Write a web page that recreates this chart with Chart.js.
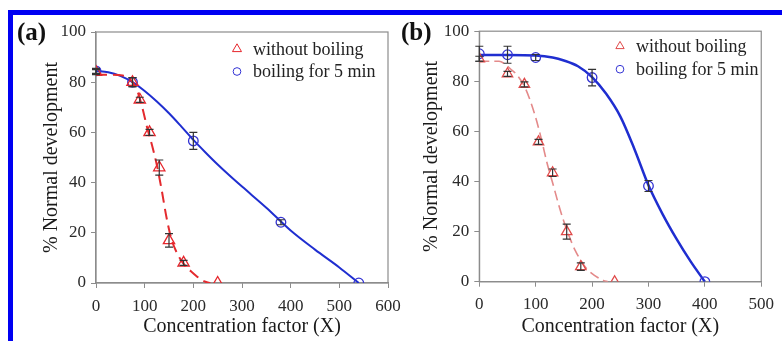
<!DOCTYPE html>
<html><head><meta charset="utf-8">
<script src="https://cdn.jsdelivr.net/npm/chart.js@4.4.0/dist/chart.umd.min.js"></script>
<style>
html,body{margin:0;padding:0;background:#fff;}
body{width:782px;height:341px;position:relative;overflow:hidden;}
canvas{position:absolute;}
#ca{left:14px;top:16px;}
#cb{left:395px;top:16px;}
.bar{position:absolute;background:#0000f2;}
</style></head><body>
<div class="bar" style="left:8px;top:10px;width:774px;height:5px"></div>
<div class="bar" style="left:8px;top:10px;width:5px;height:331px"></div>
<canvas id="ca" width="396" height="325"></canvas>
<canvas id="cb" width="387" height="325"></canvas>
<script>
// ---------- data ----------
const seriesLabels = ['without boiling', 'boiling for 5 min'];
const panelLabels = ['(a)', '(b)'];
const yTitle = '% Normal development';
const xTitle = 'Concentration factor (X)';
const xTicksA = [0, 100, 200, 300, 400, 500, 600];
const xTicksB = [0, 100, 200, 300, 400, 500];
const yTicks = [0, 20, 40, 60, 80, 100];

// panel (a)
const concA_raw = [0, 75, 90, 110, 130, 150, 180, 250];
const normA_raw = [84, 80, 73, 60, 46, 17, 8, 0];
const errA_raw  = [1, 1.8, 1, 1.2, 3, 2.7, 1, 0];
const concA_boil = [0, 75, 200, 380, 540];
const normA_boil = [84.5, 80, 56.6, 24.2, 0];
const errA_boil  = [1, 1.8, 3.4, 1, 0];
const fitA_raw_x = [0, 30, 55, 65, 75, 85, 95, 105, 115, 125, 135, 145, 155, 165, 175, 185, 195, 205, 215, 225, 235];
const fitA_raw_y = [83, 83, 82.7, 82, 80, 76.5, 70, 62, 55, 47, 37, 26, 17.5, 12.5, 9, 6.5, 4.7, 3, 1.5, 0.5, 0];
const fitA_boil_x = [0, 25, 50, 75, 100, 125, 150, 175, 200, 225, 250, 275, 300, 350, 400, 450, 500, 540];
const fitA_boil_y = [84.5, 84, 82.5, 80, 76.5, 72.3, 67.6, 62.4, 57, 52, 47.2, 42.7, 38.4, 30, 20.9, 13.3, 6.2, 0];

// panel (b)
const concB_raw = [0, 50, 80, 105, 130, 155, 180, 240];
const normB_raw = [89, 83, 78.8, 55.8, 43.5, 20, 6, 0];
const errB_raw  = [1, 1, 1, 1, 1.5, 3, 1.5, 0];
const concB_boil = [0, 50, 100, 200, 300, 400];
const normB_boil = [91, 90.6, 89.5, 81.5, 38.2, 0];
const errB_boil  = [3, 3.4, 1.2, 3.3, 2.2, 0];
const fitB_raw_x = [0, 35, 45, 55, 65, 80, 90, 100, 110, 120, 130, 140, 150, 160, 170, 180, 190, 200, 210, 220, 228];
const fitB_raw_y = [88, 88, 87, 85, 83, 78, 72.5, 65.5, 57, 47.5, 39.5, 31.3, 24, 17.8, 12.5, 8.5, 5.3, 3.2, 1.7, 0.5, 0];
const fitB_boil_x = [0, 50, 100, 130, 150, 175, 200, 225, 250, 275, 300, 325, 350, 375, 400];
const fitB_boil_y = [90.5, 90.5, 90.3, 89.5, 88.3, 86, 81.7, 75, 66, 53, 38.5, 27, 17, 8, 0];

// ---------- helpers ----------
const pts = (xs, ys) => xs.map((x, i) => ({x: x, y: ys[i]}));
Chart.defaults.font.family = "'Liberation Serif', 'Times New Roman', serif";
Chart.defaults.color = '#2a2a2a';

const errorBars = {
  id: 'errorBars',
  afterDatasetsDraw(chart) {
    const {ctx, scales: {x, y}} = chart;
    ctx.save();
    ctx.strokeStyle = '#333';
    ctx.lineWidth = 1.2;
    chart.data.datasets.forEach(ds => {
      if (!ds.errors) return;
      ds.data.forEach((p, i) => {
        const e = ds.errors[i];
        if (!e) return;
        const px = x.getPixelForValue(p.x);
        const t = y.getPixelForValue(p.y + e), b = y.getPixelForValue(p.y - e);
        ctx.beginPath();
        ctx.moveTo(px, t); ctx.lineTo(px, b);
        ctx.moveTo(px - 4, t); ctx.lineTo(px + 4, t);
        ctx.moveTo(px - 4, b); ctx.lineTo(px + 4, b);
        ctx.stroke();
      });
    });
    ctx.restore();
  }
};

const frame = {
  id: 'frame',
  beforeDatasetsDraw(chart) {
    const {ctx, chartArea: a} = chart;
    ctx.save();
    ctx.strokeStyle = '#8c8c8c';
    ctx.lineWidth = 1.2;
    ctx.strokeRect(a.left, a.top, a.right - a.left, a.bottom - a.top);
    ctx.restore();
  }
};

const miniLegend = {
  id: 'miniLegend',
  afterDraw(chart, args, opts) {
    const {ctx, chartArea: a} = chart;
    ctx.save();
    ctx.font = opts.fontSize + "px 'Liberation Serif', serif";
    ctx.textBaseline = 'middle';
    ctx.textAlign = 'left';
    let row = 0;
    chart.data.datasets.forEach(ds => {
      if (!ds.inLegend) return;
      const mx = a.left + opts.dx, my = a.top + opts.dy + row * opts.rowH;
      ctx.strokeStyle = ds.borderColor;
      ctx.fillStyle = 'rgba(0,0,0,0)';
      Chart.helpers.drawPoint(ctx, {pointStyle: ds.pointStyle, radius: ds.pointRadius * 0.8, borderWidth: 1.3, rotation: 0}, mx, my);
      ctx.fillStyle = '#222';
      ctx.fillText(ds.label, mx + opts.textGap, my + 1);
      row++;
    });
    ctx.restore();
  }
};

const panelTag = {
  id: 'panelTag',
  afterDraw(chart, args, opts) {
    const {ctx} = chart;
    ctx.save();
    ctx.font = "bold 25px 'Liberation Serif', serif";
    ctx.fillStyle = '#111';
    ctx.textBaseline = 'middle';
    ctx.textAlign = 'left';
    ctx.fillText(opts.text, opts.x, opts.y);
    ctx.restore();
  }
};

function makeChart(id, p) {
  const datasets = [
    {label: seriesLabels[0], data: pts(p.rawX, p.rawY), errors: p.rawE, inLegend: true,
     pointStyle: 'triangle', pointRadius: p.triR, borderColor: p.redMark, backgroundColor: 'rgba(0,0,0,0)',
     pointBorderWidth: 1.3, showLine: false},
    {label: seriesLabels[1], data: pts(p.boilX, p.boilY), errors: p.boilE, inLegend: true,
     pointStyle: 'circle', pointRadius: 4.8, borderColor: '#3434d4', backgroundColor: 'rgba(0,0,0,0)',
     pointBorderWidth: 1.3, showLine: false},
    {label: 'fit raw', data: pts(p.fitRX, p.fitRY), showLine: true, pointRadius: 0,
     borderColor: p.redLine, borderWidth: p.redW, borderDash: p.dash, cubicInterpolationMode: 'monotone', fill: false},
    {label: 'fit boil', data: pts(p.fitBX, p.fitBY), showLine: true, pointRadius: 0,
     borderColor: '#1f2ed0', borderWidth: p.blueW, cubicInterpolationMode: 'monotone', fill: false}
  ];
  return new Chart(document.getElementById(id), {
    type: 'scatter',
    data: {datasets},
    plugins: [frame, errorBars, miniLegend, panelTag],
    options: {
      responsive: false, animation: false, devicePixelRatio: 1,
      layout: {padding: {left: 0, right: p.padR, top: p.padT, bottom: 0}},
      plugins: {
        legend: {display: false}, tooltip: {enabled: false},
        miniLegend: p.legend,
        panelTag: p.tag
      },
      scales: {
        x: {
          type: 'linear', min: p.xTicks[0], max: p.xTicks[p.xTicks.length - 1],
          afterBuildTicks: s => { s.ticks = p.xTicks.map(v => ({value: v})); },
          afterFit: s => { s.height = p.xH; },
          grid: {drawOnChartArea: false, drawTicks: true, tickLength: 5, color: '#8c8c8c'},
          border: {color: '#8c8c8c', width: 1.2},
          ticks: {font: {size: 17, lineHeight: 1.2}, padding: 8, maxRotation: 0, autoSkip: false, color: '#2a2a2a'},
          title: {display: true, text: xTitle, font: {size: 20, lineHeight: 1.2}, padding: {top: 0, bottom: 2}, color: '#1a1a1a'}
        },
        y: {
          type: 'linear', min: 0, max: 100,
          afterBuildTicks: s => { s.ticks = yTicks.map(v => ({value: v})); },
          afterFit: s => { s.width = p.yW; },
          grid: {drawOnChartArea: false, drawTicks: true, tickLength: 5, color: '#8c8c8c'},
          border: {color: '#8c8c8c', width: 1.2},
          ticks: {font: {size: 17, lineHeight: 1.2}, padding: 5, color: '#2a2a2a'},
          title: {display: true, text: yTitle, font: {size: 20, lineHeight: 1.2}, padding: {top: p.yTitlePad, bottom: 0}, color: '#1a1a1a'}
        }
      }
    }
  });
}

makeChart('ca', {
  rawX: concA_raw, rawY: normA_raw, rawE: errA_raw,
  boilX: concA_boil, boilY: normA_boil, boilE: errA_boil,
  fitRX: fitA_raw_x, fitRY: fitA_raw_y, fitBX: fitA_boil_x, fitBY: fitA_boil_y,
  xTicks: xTicksA, redMark: '#e6262c', redLine: '#e42a2e', redW: 2, blueW: 2, dash: [11, 6], triR: 6.5,
  padR: 22, padT: 16, yW: 82, xH: 58, yTitlePad: 26,
  legend: {dx: 141, dy: 17, rowH: 22.5, textGap: 16, fontSize: 18},
  tag: {text: panelLabels[0], x: 3, y: 18}
});
makeChart('cb', {
  rawX: concB_raw, rawY: normB_raw, rawE: errB_raw,
  boilX: concB_boil, boilY: normB_boil, boilE: errB_boil,
  fitRX: fitB_raw_x, fitRY: fitB_raw_y, fitBX: fitB_boil_x, fitBY: fitB_boil_y,
  xTicks: xTicksB, redMark: '#e04a4a', redLine: '#e48a8a', redW: 1.6, blueW: 2.5, dash: [10, 5], triR: 6,
  padR: 14.3, padT: 15, yW: 84.3, xH: 59.3, yTitlePad: 24.7,
  legend: {dx: 140.7, dy: 15, rowH: 23, textGap: 16, fontSize: 18},
  tag: {text: panelLabels[1], x: 6, y: 18}
});
</script>
</body></html>
